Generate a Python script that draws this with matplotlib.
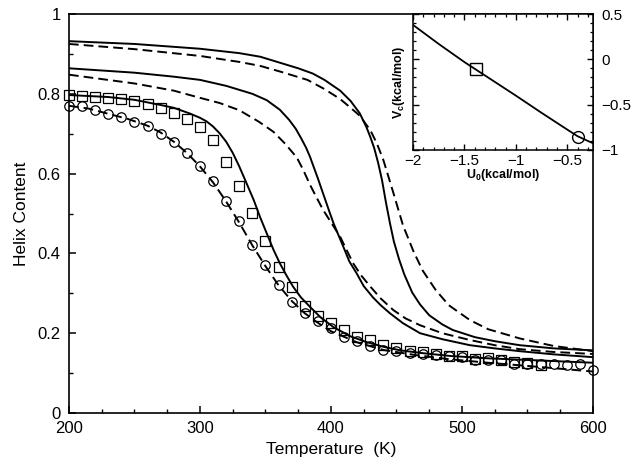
import matplotlib
matplotlib.use("Agg")
import matplotlib.pyplot as plt
from matplotlib.ticker import MultipleLocator, FuncFormatter

plt.rcParams['font.family'] = ['Liberation Sans', 'DejaVu Sans']
plt.rcParams['mathtext.fontset'] = 'custom'
plt.rcParams['mathtext.rm'] = 'Liberation Sans:bold'
plt.rcParams['mathtext.it'] = 'Liberation Sans:bold'
plt.rcParams['mathtext.bf'] = 'Liberation Sans:bold'

# ---- main panel data ----
a_solid_T = [200, 250, 300, 330, 346, 361, 375, 386, 395, 407, 415, 422, 427, 430, 433, 436, 439,
             442, 445, 448, 452, 456, 462, 468, 475, 485, 493, 510, 525, 544, 570, 600]
a_solid_H = [0.932, 0.925, 0.913, 0.902, 0.893, 0.878, 0.864, 0.851, 0.835, 0.808, 0.782, 0.751,
             0.717, 0.692, 0.664, 0.627, 0.583, 0.527, 0.476, 0.430, 0.385, 0.347, 0.302, 0.272,
             0.245, 0.222, 0.208, 0.190, 0.180, 0.170, 0.162, 0.157]

a_dash_T = [200, 250, 300, 330, 346, 361, 382, 395, 407, 415, 422, 430, 435, 440, 447.6, 455,
            463, 470, 480, 490, 506, 520, 544, 570, 600]
a_dash_H = [0.925, 0.912, 0.895, 0.880, 0.870, 0.856, 0.835, 0.812, 0.787, 0.765, 0.745, 0.709,
            0.676, 0.634, 0.552, 0.470, 0.405, 0.357, 0.308, 0.270, 0.233, 0.210, 0.187, 0.168, 0.155]

b_solid_T = [200, 250, 280, 300, 320, 340, 351, 361, 368, 373, 377, 381, 384, 387, 390, 394, 398,
             402, 409.4, 414, 419.6, 425, 432, 438, 445, 455, 468, 485, 506, 525, 544, 570, 600]
b_solid_H = [0.864, 0.853, 0.843, 0.835, 0.820, 0.800, 0.784, 0.760, 0.735, 0.713, 0.690, 0.665,
             0.642, 0.615, 0.588, 0.550, 0.512, 0.475, 0.417, 0.380, 0.350, 0.318, 0.290, 0.270,
             0.250, 0.225, 0.200, 0.185, 0.170, 0.162, 0.155, 0.147, 0.140]

b_dash_T = [200, 250, 280, 300, 315, 330, 345, 356, 365, 374, 379, 384, 389, 394, 400, 407, 412,
            417, 423, 430, 438, 447.6, 457, 468, 485, 506, 525, 544, 570, 600]
b_dash_H = [0.848, 0.826, 0.808, 0.790, 0.777, 0.759, 0.730, 0.705, 0.675, 0.640, 0.608, 0.572,
            0.540, 0.509, 0.478, 0.442, 0.408, 0.375, 0.345, 0.317, 0.287, 0.258, 0.237, 0.220,
            0.200, 0.183, 0.170, 0.160, 0.153, 0.148]

c_solid_T = [200, 230, 250, 270, 280, 292, 300, 305, 310, 315, 320, 325, 330, 335, 341, 346, 351,
             356, 361, 366, 371, 377, 384, 392, 402, 415, 427, 440, 453, 470, 491, 520, 550, 600]
c_solid_H = [0.797, 0.792, 0.785, 0.772, 0.765, 0.751, 0.740, 0.731, 0.718, 0.701, 0.680, 0.652,
             0.618, 0.580, 0.534, 0.490, 0.450, 0.410, 0.375, 0.345, 0.317, 0.290, 0.266, 0.240,
             0.215, 0.192, 0.178, 0.166, 0.157, 0.150, 0.143, 0.137, 0.133, 0.126]

c_dash_T = [200, 215, 230, 245, 260, 270, 280, 290, 300, 310, 320, 330, 340, 350, 360, 370, 380,
            390, 400, 420, 440, 465, 490, 520, 550, 575, 600]
c_dash_H = [0.770, 0.763, 0.750, 0.737, 0.720, 0.703, 0.680, 0.652, 0.618, 0.578, 0.530, 0.477,
            0.420, 0.368, 0.320, 0.281, 0.250, 0.226, 0.205, 0.177, 0.158, 0.145, 0.135, 0.126,
            0.118, 0.111, 0.104]

sq_T = list(range(200, 561, 10))
sq_H = [0.797, 0.794, 0.793, 0.790, 0.788, 0.783, 0.774, 0.764, 0.751, 0.736,
        0.716, 0.684, 0.628, 0.570, 0.501, 0.432, 0.366, 0.316, 0.269, 0.242,
        0.225, 0.208, 0.190, 0.183, 0.170, 0.164, 0.156, 0.154, 0.147, 0.144,
        0.143, 0.135, 0.137, 0.132, 0.129, 0.125, 0.121]

ci_T = list(range(200, 601, 10))
ci_H = [0.769, 0.769, 0.759, 0.749, 0.741, 0.730, 0.719, 0.700, 0.680, 0.651,
        0.620, 0.581, 0.531, 0.481, 0.421, 0.370, 0.321, 0.279, 0.250, 0.231,
        0.212, 0.191, 0.181, 0.168, 0.159, 0.155, 0.150, 0.149, 0.145, 0.142,
        0.141, 0.133, 0.133, 0.133, 0.124, 0.122, 0.122, 0.122, 0.120, 0.124,
        0.109]

# ---- inset data ----
u0 = [-2.0, -1.75, -1.5, -1.25, -1.0, -0.75, -0.5, -0.4, -0.3, -0.25]
vc = [0.38, 0.17, -0.03, -0.215, -0.40, -0.59, -0.775, -0.848, -0.900, -0.925]
u0_sq, vc_sq = [-1.39], [-0.11]
u0_ci, vc_ci = [-0.40], [-0.862]


def minus_fmt(v, p):
    return ('%g' % round(v, 1)).replace('-', '\u2212')


fig = plt.figure(figsize=(6.41, 4.68), dpi=100)
ax = fig.add_axes([0.1076, 0.1175, 0.8175, 0.8525])

lw = 1.4
dash = (5, 2.6)
ax.plot(a_solid_T, a_solid_H, 'k-', lw=lw)
ax.plot(a_dash_T, a_dash_H, 'k--', lw=lw, dashes=dash)
ax.plot(b_solid_T, b_solid_H, 'k-', lw=lw)
ax.plot(b_dash_T, b_dash_H, 'k--', lw=lw, dashes=dash)
ax.plot(c_solid_T, c_solid_H, 'k-', lw=lw)
ax.plot(c_dash_T, c_dash_H, 'k--', lw=lw, dashes=dash)
ax.plot(sq_T, sq_H, 's', ms=6.8, mfc='none', mec='k', mew=0.9, clip_on=False)
ax.plot(ci_T, ci_H, 'o', ms=6.8, mfc='none', mec='k', mew=0.9, clip_on=False)

ax.set_xlim(200, 600)
ax.set_ylim(0, 1)
ax.xaxis.set_major_locator(MultipleLocator(100))
ax.xaxis.set_minor_locator(MultipleLocator(25))
ax.yaxis.set_major_locator(MultipleLocator(0.2))
ax.yaxis.set_minor_locator(MultipleLocator(0.1))
ax.yaxis.set_major_formatter(FuncFormatter(lambda v, p: '%g' % round(v, 1)))
ax.tick_params(which='both', direction='in', top=False, right=False, labelsize=12)
ax.tick_params(which='major', length=5, width=1.1, pad=6)
ax.tick_params(which='minor', length=3, width=1.0)
for s in ax.spines.values():
    s.set_linewidth(1.2)
ax.set_xlabel('Temperature  (K)', fontsize=12.5, labelpad=4)
ax.set_ylabel('Helix Content', fontsize=12.5, labelpad=6)

# ---- inset ----
ins = fig.add_axes([0.6443, 0.6795, 0.2808, 0.2905])
ins.plot(u0, vc, 'k-', lw=1.3)
ins.plot(u0_sq, vc_sq, 's', ms=8, mfc='none', mec='k', mew=1.0)
ins.plot(u0_ci, vc_ci, 'o', ms=8.5, mfc='none', mec='k', mew=1.0)
ins.set_xlim(-2, -0.25)
ins.set_ylim(-1, 0.5)
ins.xaxis.set_major_locator(MultipleLocator(0.5))
ins.xaxis.set_minor_locator(MultipleLocator(0.1))
ins.yaxis.set_major_locator(MultipleLocator(0.5))
ins.yaxis.set_minor_locator(MultipleLocator(0.1))
ins.yaxis.set_major_formatter(FuncFormatter(minus_fmt))
ins.xaxis.set_major_formatter(FuncFormatter(minus_fmt))
ins.tick_params(which='both', direction='in', top=True, right=True, left=True,
                labelleft=False, labelright=True, labelsize=11)
ins.tick_params(which='major', length=4, width=1.0, pad=3)
ins.tick_params(which='minor', length=2.5, width=0.9)
ins.tick_params(axis='y', which='major', pad=6)
for s in ins.spines.values():
    s.set_linewidth(1.1)
ins.set_xlabel(r'U$_0$(kcal/mol)', fontsize=9, fontweight='bold', labelpad=-1)
ins.set_ylabel(r'V$_c$(kcal/mol)', fontsize=9, fontweight='bold', labelpad=4)

fig.savefig('out.png', dpi=100)
